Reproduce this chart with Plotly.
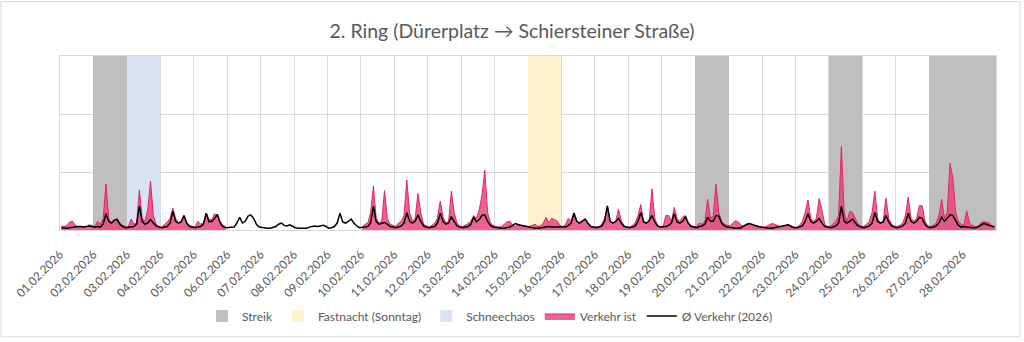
import pandas as pd
import plotly.graph_objects as go

# ---------------- data ----------------
day_labels = ["01.02.2026", "02.02.2026", "03.02.2026", "04.02.2026", "05.02.2026", "06.02.2026",
              "07.02.2026", "08.02.2026", "09.02.2026", "10.02.2026", "11.02.2026", "12.02.2026",
              "13.02.2026", "14.02.2026", "15.02.2026", "16.02.2026", "17.02.2026", "18.02.2026",
              "19.02.2026", "20.02.2026", "21.02.2026", "22.02.2026", "23.02.2026", "24.02.2026",
              "25.02.2026", "26.02.2026", "27.02.2026", "28.02.2026"]

streik_days = ["2026-02-02", "2026-02-20", "2026-02-24", "2026-02-27", "2026-02-28"]
fastnacht_days = ["2026-02-15"]
schneechaos_days = ["2026-02-03"]

N = None
# Verkehr ist (2-hour steps, 12 values per day)
verkehr_ist = [
    0.07, 0.06, 0.08, 0.14, 0.15, 0.08, 0.05, 0.05, 0.06, 0.06, 0.09, 0.07,  # 01
    0.06, 0.15, 0.10, 0.20, 0.79, 0.20, 0.12, 0.17, 0.20, 0.12, 0.08, 0.06,  # 02
    0.05, 0.19, 0.10, 0.12, 0.69, 0.20, 0.15, 0.35, 0.84, 0.25, 0.10, 0.06,  # 03
    0.05, 0.10, 0.14, 0.20, 0.38, 0.20, 0.12, 0.15, 0.25, 0.12, 0.08, 0.06,  # 04
    0.05, 0.15, 0.10, 0.12, 0.29, 0.18, 0.18, 0.28, 0.25, 0.15, 0.08, 0.05,  # 05
    N, N, N, N, N, N, N, N, N, N, N, N,  # 06
    N, N, N, N, N, N, N, N, N, N, N, N,  # 07
    N, N, N, N, N, N, N, N, N, N, N, N,  # 08
    N, N, N, N, N, N, N, N, N, N, N, N,  # 09
    0.05, 0.10, 0.12, 0.30, 0.76, 0.20, 0.12, 0.15, 0.68, 0.20, 0.10, 0.08,  # 10
    0.06, 0.12, 0.15, 0.25, 0.86, 0.30, 0.15, 0.20, 0.63, 0.30, 0.10, 0.07,  # 11
    0.05, 0.08, 0.12, 0.20, 0.50, 0.22, 0.12, 0.15, 0.67, 0.30, 0.12, 0.07,  # 12
    0.06, 0.08, 0.12, 0.15, 0.25, 0.20, 0.35, 0.60, 1.03, 0.30, 0.12, 0.08,  # 13
    0.06, 0.05, 0.06, 0.10, 0.14, 0.15, 0.08, 0.06, 0.10, 0.08, 0.07, 0.06,  # 14
    0.06, 0.08, 0.10, 0.06, 0.07, 0.12, 0.22, 0.12, 0.20, 0.18, 0.15, 0.08,  # 15
    0.06, 0.10, 0.20, 0.15, 0.30, 0.15, 0.12, 0.15, 0.18, 0.10, 0.06, 0.05,  # 16
    0.05, 0.06, 0.10, 0.20, 0.42, 0.15, 0.12, 0.15, 0.36, 0.15, 0.08, 0.05,  # 17
    0.05, 0.08, 0.13, 0.25, 0.44, 0.15, 0.12, 0.15, 0.71, 0.20, 0.08, 0.05,  # 18
    0.06, 0.25, 0.25, 0.15, 0.39, 0.20, 0.15, 0.22, 0.25, 0.12, 0.08, 0.06,  # 19
    0.06, 0.12, 0.10, 0.15, 0.53, 0.20, 0.25, 0.79, 0.30, 0.15, 0.10, 0.08,  # 20
    0.07, 0.12, 0.16, 0.14, 0.08, 0.06, 0.08, 0.10, 0.09, 0.08, 0.07, 0.06,  # 21
    0.05, 0.06, 0.08, 0.11, 0.10, 0.08, 0.06, 0.07, 0.08, 0.09, 0.07, 0.05,  # 22
    0.05, 0.08, 0.15, 0.30, 0.52, 0.20, 0.15, 0.20, 0.54, 0.35, 0.10, 0.06,  # 23
    0.06, 0.10, 0.15, 0.25, 1.44, 0.30, 0.15, 0.32, 0.30, 0.20, 0.10, 0.07,  # 24
    0.06, 0.10, 0.15, 0.30, 0.67, 0.20, 0.12, 0.15, 0.55, 0.20, 0.10, 0.07,  # 25
    0.06, 0.08, 0.12, 0.25, 0.57, 0.20, 0.15, 0.20, 0.42, 0.42, 0.15, 0.07,  # 26
    0.06, 0.08, 0.12, 0.25, 0.53, 0.20, 0.30, 1.15, 0.90, 0.30, 0.15, 0.10,  # 27
    0.08, 0.33, 0.12, 0.08, 0.06, 0.06, 0.12, 0.15, 0.14, 0.12, 0.08, 0.06,  # 28
]

# Ø Verkehr (2026)
verkehr_avg = [
    0.04, 0.03, 0.03, 0.04, 0.05, 0.06, 0.06, 0.06, 0.05, 0.06, 0.07, 0.06,  # 01
    0.05, 0.06, 0.05, 0.10, 0.28, 0.15, 0.12, 0.17, 0.18, 0.10, 0.06, 0.04,  # 02
    0.05, 0.05, 0.06, 0.10, 0.41, 0.15, 0.10, 0.12, 0.18, 0.12, 0.07, 0.05,  # 03
    0.04, 0.05, 0.06, 0.12, 0.32, 0.15, 0.12, 0.14, 0.25, 0.12, 0.06, 0.05,  # 04
    0.04, 0.05, 0.06, 0.10, 0.29, 0.14, 0.15, 0.20, 0.27, 0.12, 0.06, 0.04,  # 05
    0.04, 0.04, 0.05, 0.12, 0.22, 0.12, 0.15, 0.24, 0.26, 0.20, 0.10, 0.05,  # 06
    0.04, 0.03, 0.03, 0.03, 0.04, 0.06, 0.10, 0.12, 0.08, 0.07, 0.09, 0.06,  # 07
    0.04, 0.03, 0.03, 0.03, 0.03, 0.05, 0.06, 0.07, 0.06, 0.07, 0.08, 0.06,  # 08
    0.03, 0.04, 0.06, 0.12, 0.29, 0.14, 0.12, 0.15, 0.19, 0.12, 0.07, 0.04,  # 09
    0.04, 0.05, 0.06, 0.12, 0.41, 0.15, 0.10, 0.12, 0.13, 0.10, 0.06, 0.05,  # 10
    0.04, 0.05, 0.07, 0.12, 0.30, 0.15, 0.12, 0.15, 0.26, 0.15, 0.07, 0.05,  # 11
    0.04, 0.05, 0.06, 0.12, 0.29, 0.15, 0.10, 0.12, 0.23, 0.15, 0.07, 0.05,  # 12
    0.04, 0.05, 0.06, 0.10, 0.22, 0.14, 0.18, 0.25, 0.26, 0.15, 0.08, 0.05,  # 13
    0.04, 0.03, 0.03, 0.03, 0.04, 0.05, 0.08, 0.11, 0.09, 0.08, 0.06, 0.05,  # 14
    0.04, 0.03, 0.03, 0.03, 0.04, 0.05, 0.06, 0.06, 0.05, 0.05, 0.05, 0.04,  # 15
    0.04, 0.05, 0.08, 0.12, 0.29, 0.15, 0.12, 0.15, 0.19, 0.12, 0.06, 0.05,  # 16
    0.04, 0.05, 0.07, 0.15, 0.41, 0.15, 0.12, 0.15, 0.20, 0.12, 0.06, 0.05,  # 17
    0.04, 0.05, 0.07, 0.15, 0.30, 0.14, 0.12, 0.16, 0.25, 0.14, 0.07, 0.05,  # 18
    0.05, 0.06, 0.08, 0.12, 0.28, 0.14, 0.12, 0.15, 0.23, 0.12, 0.06, 0.05,  # 19
    0.04, 0.06, 0.07, 0.10, 0.22, 0.15, 0.15, 0.25, 0.24, 0.12, 0.07, 0.05,  # 20
    0.04, 0.03, 0.03, 0.03, 0.04, 0.07, 0.10, 0.11, 0.09, 0.07, 0.06, 0.05,  # 21
    0.04, 0.03, 0.03, 0.03, 0.04, 0.05, 0.06, 0.07, 0.08, 0.09, 0.06, 0.04,  # 22
    0.04, 0.05, 0.07, 0.15, 0.28, 0.15, 0.12, 0.15, 0.20, 0.12, 0.06, 0.05,  # 23
    0.04, 0.05, 0.07, 0.12, 0.41, 0.15, 0.12, 0.15, 0.19, 0.12, 0.07, 0.05,  # 24
    0.04, 0.05, 0.07, 0.12, 0.30, 0.15, 0.12, 0.14, 0.25, 0.14, 0.07, 0.05,  # 25
    0.04, 0.05, 0.07, 0.12, 0.29, 0.15, 0.12, 0.15, 0.22, 0.20, 0.10, 0.05,  # 26
    0.04, 0.05, 0.07, 0.12, 0.22, 0.15, 0.20, 0.26, 0.25, 0.15, 0.08, 0.05,  # 27
    0.06, 0.05, 0.04, 0.04, 0.04, 0.05, 0.08, 0.11, 0.10, 0.08, 0.06, 0.05,  # 28
]

# ---------------- build ----------------
start = pd.Timestamp("2026-02-01")
times = list(start + pd.Timedelta(hours=1) + pd.to_timedelta(range(len(verkehr_avg)), unit="h") * 2)
day_ticks = [start + pd.Timedelta(days=i) for i in range(len(day_labels))]
DAY_MS = 86400000
Y_MAX = 3

FONT = "Lato"
GREY_TXT = "#595959"
GRID = "#D9D9D9"


def band(days, name, color):
    xs = [pd.Timestamp(d) + pd.Timedelta(hours=12) for d in days]
    return go.Bar(x=xs, y=[Y_MAX] * len(xs), width=[DAY_MS] * len(xs), name=name,
                  marker=dict(color=color, line=dict(width=0)), hoverinfo="skip")


fig = go.Figure()
fig.add_trace(band(streik_days, "Streik", "#BFBFBF"))
fig.add_trace(band(fastnacht_days, "Fastnacht (Sonntag)", "#FFF2CC"))
fig.add_trace(band(schneechaos_days, "Schneechaos", "#DAE3F3"))

# split "Verkehr ist" into contiguous runs so the area is not filled across missing days
runs, cur = [], []
for t, v in zip(times, verkehr_ist):
    if v is None:
        if cur:
            runs.append(cur)
            cur = []
    else:
        cur.append((t, v))
if cur:
    runs.append(cur)

for k, run in enumerate(runs):
    fig.add_trace(go.Scatter(x=[p[0] for p in run], y=[p[1] for p in run], name="Verkehr ist",
                             mode="lines", fill="tozeroy", fillcolor="rgba(234,64,122,0.82)",
                             line=dict(color="#E3236A", width=1), legendgroup="ist",
                             showlegend=(k == 0)))

fig.add_trace(go.Scatter(x=times, y=verkehr_avg, name="Ø Verkehr (2026)", mode="lines",
                         line=dict(color="#000000", width=1.5)))

W, H = 1024, 342
ML, MR, MT, MB = 60, 28, 56, 110
pw, ph = W - ML - MR, H - MT - MB

fig.update_layout(
    width=W, height=H,
    margin=dict(l=ML, r=MR, t=MT, b=MB),
    paper_bgcolor="white", plot_bgcolor="white",
    barmode="overlay", bargap=0,
    font=dict(family=FONT, color=GREY_TXT),
    title=dict(text="2. Ring (Dürerplatz → Schiersteiner Straße)", x=0.5, xanchor="center",
               y=1 - 31 / H, yanchor="middle", font=dict(size=19.5, color=GREY_TXT, family=FONT)),
    legend=dict(orientation="h", x=(490 - ML) / pw, xanchor="center", y=-(319 - (MT + ph)) / ph,
                yanchor="middle", font=dict(size=12, color=GREY_TXT), traceorder="normal",
                itemwidth=30),
    showlegend=True,
    xaxis=dict(type="date", range=[start, start + pd.Timedelta(days=28)],
               tickvals=day_ticks, ticktext=day_labels, tickangle=-45,
               tickfont=dict(size=11.8, color=GREY_TXT), ticklabelstandoff=12,
               showgrid=True, gridcolor=GRID, gridwidth=1,
               showline=True, linecolor=GRID, linewidth=1, mirror=True, ticks="",
               zeroline=False),
    yaxis=dict(range=[0, Y_MAX], dtick=1, showticklabels=False, showgrid=True,
               gridcolor=GRID, gridwidth=1, showline=True, linecolor=GRID, mirror=True,
               zeroline=False, ticks=""),
    shapes=[dict(type="rect", xref="paper", yref="paper",
                 x0=(1 - ML) / pw, x1=(W - 4 - ML) / pw,
                 y0=-(H - 2 - MT - ph) / ph, y1=(MT + ph - 1) / ph,
                 line=dict(color="#D9D9D9", width=1), fillcolor="rgba(0,0,0,0)", layer="below")],
)

fig.write_html("out.html")
